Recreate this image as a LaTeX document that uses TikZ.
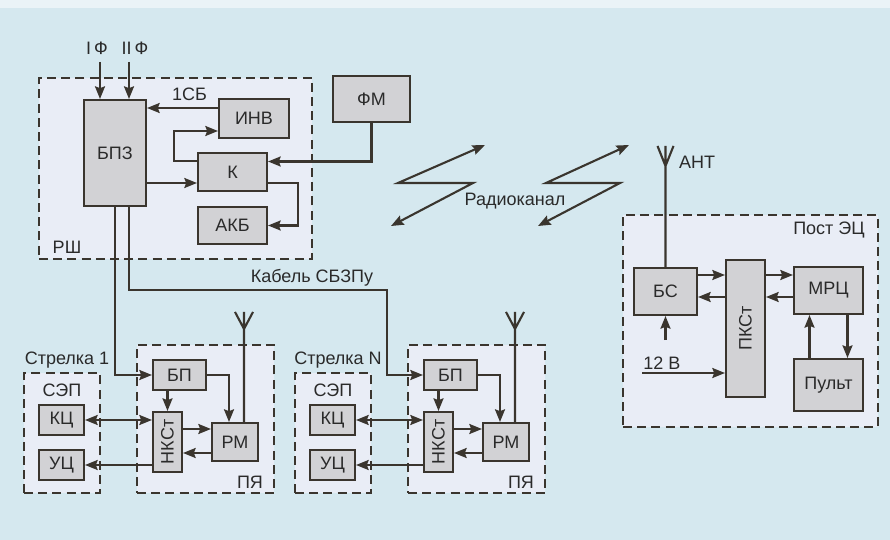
\documentclass[tikz,border=0pt]{standalone}
\usepackage{fontspec}
\setmainfont{Liberation Sans}
\usepackage{graphicx}
\usepackage{tikz}
\usetikzlibrary{arrows.meta}
\definecolor{bgblue}{HTML}{D5E8EF}
\definecolor{zonefill}{HTML}{E9EDF6}
\definecolor{boxgray}{HTML}{D2D2D5}
\definecolor{wire}{HTML}{3A352E}
\definecolor{ink}{HTML}{2A2A2A}

\begin{document}
\begin{tikzpicture}[
        x=0.5pt, y=-0.5pt,
        font=\fontsize{9}{11}\selectfont,
        color=wire, text=ink, line width=1.05pt,
        blk/.style={draw, fill=boxgray, inner sep=0pt},
        zone/.style={draw, fill=zonefill, dash pattern=on 4.5pt off 2.6pt, inner sep=0pt},
        arr/.style={-{Stealth[length=6.3pt, width=5pt, inset=0.9pt]}},
        darr/.style={{Stealth[length=6.3pt, width=5pt, inset=0.9pt]}-{Stealth[length=6.3pt, width=5pt, inset=0.9pt]}},
      ]
        \fill[bgblue] (0,0) rectangle (890,540);
        \fill[white, opacity=0.5] (0,0) rectangle (890,8);
        % rack
        \node[zone, minimum width=136.5pt, minimum height=90.5pt] (rsh) at (175.5,168.5) {};
        \node (rshl) at (67,247) {РШ};
        \node[blk, minimum width=31pt, minimum height=53pt] (bpz) at (115,153) {БПЗ};
        \node[blk, minimum width=35pt, minimum height=19.5pt] (inv) at (254,118.5) {ИНВ};
        \node[blk, minimum width=34.5pt, minimum height=19pt] (k) at (232.5,172) {К};
        \node[blk, minimum width=34.5pt, minimum height=18.5pt] (akb) at (232.5,225.5) {АКБ};
        \node[blk, minimum width=38.5pt, minimum height=23pt] (fm) at (371.5,99) {ФМ};
        \node (f1) at (97,48) {I\,Ф};
        \node (f2) at (135,48) {II\,Ф};
        \draw[arr] ([xshift=-7.5pt]bpz.north |- f1.south) -- ([xshift=-7.5pt]bpz.north);
        \draw[arr] ([xshift=7pt]bpz.north |- f2.south) -- ([xshift=7pt]bpz.north);
        \draw[arr] ([yshift=5.25pt]inv.west) -- ([yshift=5.25pt]inv.west -| bpz.east) node[pos=0.4, above] {1СБ};
        \draw[arr] ([yshift=5.5pt]k.west) -- ++(-11.5pt,0) |- ([yshift=-6.25pt]inv.west);
        \draw[arr] ([yshift=-5.5pt]k.west -| bpz.east) -- ([yshift=-5.5pt]k.west);
        \draw[arr] (fm.south) |- ([yshift=5.25pt]k.east);
        \draw[arr] ([yshift=-5.5pt]k.east) -- ++(15pt,0) |- (akb.east);
        % switches
        \foreach \s/\dx in {1/0, N/271}{
          \node[zone, minimum width=38pt, minimum height=60pt] (sep\s) at (62+\dx,433) {};
          \node[zone, minimum width=68.5pt, minimum height=74pt] (pya\s) at (205.5+\dx,419) {};
          \node (strl\s) at (67+\dx,360) {Стрелка \s};
          \node (sepl\s) at (62+\dx,390) {СЭП};
          \node (pyal\s) at (250+\dx,482) {ПЯ};
          \node[blk, minimum width=22.5pt, minimum height=15pt] (kc\s) at (61.5+\dx,420) {КЦ};
          \node[blk, minimum width=22.5pt, minimum height=15pt] (uc\s) at (61.5+\dx,465) {УЦ};
          \node[blk, minimum width=26.5pt, minimum height=15pt] (bp\s) at (179.5+\dx,375) {БП};
          \node[blk, minimum width=14.5pt, minimum height=30pt] (nks\s) at (167.5+\dx,442) {\rotatebox{90}{НКСт}};
          \node[blk, minimum width=23pt, minimum height=19pt] (rm\s) at (235+\dx,442) {РМ};
          \draw[arr] (bp\s.south -| nks\s.north) -- (nks\s.north);
          \draw[arr] (bp\s.east) -| ([xshift=-3pt]rm\s.north);
          \draw[arr] ([yshift=6.5pt]nks\s.east) -- ([yshift=6.5pt]rm\s.west);
          \draw[arr] ([yshift=-5.5pt]rm\s.west) -- ([yshift=-5.5pt]nks\s.east);
          \draw[darr] (kc\s.east) -- (kc\s.east -| nks\s.west);
          \draw[arr] (uc\s.east -| nks\s.west) -- (uc\s.east);
          \draw ([xshift=4.5pt]rm\s.north) -- ++(0,55pt) coordinate (ant\s) ++(-4.5pt,0) -- ++(4.5pt,-8.5pt) -- ++(4.5pt,8.5pt);
        }
        \coordinate (cbl) at (387,290);
        \draw[arr] (bpz.south) |- (bp1.west);
        \draw[arr] ([xshift=7pt]bpz.south) |- (cbl) |- (bpN.west);
        \node (cbll) at (312,278) {Кабель СБЗПу};
        % post
        \node[zone, minimum width=127.5pt, minimum height=106pt] (post) at (750.5,321) {};
        \node (postl) at (829,230) {Пост ЭЦ};
        \node[blk, minimum width=31.5pt, minimum height=23.5pt] (bs) at (665.5,291.5) {БС};
        \node[blk, minimum width=19.5pt, minimum height=68.5pt] (pks) at (745.5,328.5) {\rotatebox{90}{ПКСт}};
        \node[blk, minimum width=34.5pt, minimum height=23.5pt] (mrc) at (828.5,290.5) {МРЦ};
        \node[blk, minimum width=34.5pt, minimum height=26pt] (pult) at (828.5,385) {Пульт};
        \draw[arr] ([yshift=8.25pt]bs.east) -- ([yshift=8.25pt]bs.east -| pks.west);
        \draw[arr] ([yshift=-2.75pt]bs.east -| pks.west) -- ([yshift=-2.75pt]bs.east);
        \draw[arr] ([yshift=8.25pt]bs.east -| pks.east) -- ([yshift=8.25pt]bs.east -| mrc.west);
        \draw[arr] ([yshift=-2.75pt]bs.east -| mrc.west) -- ([yshift=-2.75pt]bs.east -| pks.east);
        \draw[arr] ([xshift=-9.5pt]pult.north) -- ([xshift=-9.5pt]mrc.south);
        \draw[arr] ([xshift=9.5pt]mrc.south) -- ([xshift=9.5pt]pult.north);
        \coordinate (v12a) at (665.5,340);
        \coordinate (v12b) at (642,373);
        \draw[arr] (v12a) -- (bs.south);
        \draw[arr] (v12b) -- (v12b -| pks.west);
        \node (v12l) at (662,363) {12 В};
        \draw (bs.north) -- ++(0,60.5pt) coordinate (antE) ++(-4pt,0) -- ++(4pt,-10pt) -- ++(4pt,10pt);
        \node (antl) at (697,162) {АНТ};
        % radio
        \draw[darr] (391,226) -- (473,183) -- (398,183) -- (485,145);
        \draw[darr] (538,226) -- (620,183) -- (546,183) -- (629,145);
        \node (radio) at (515,201) {Радиоканал};
      \end{tikzpicture}
\end{document}
